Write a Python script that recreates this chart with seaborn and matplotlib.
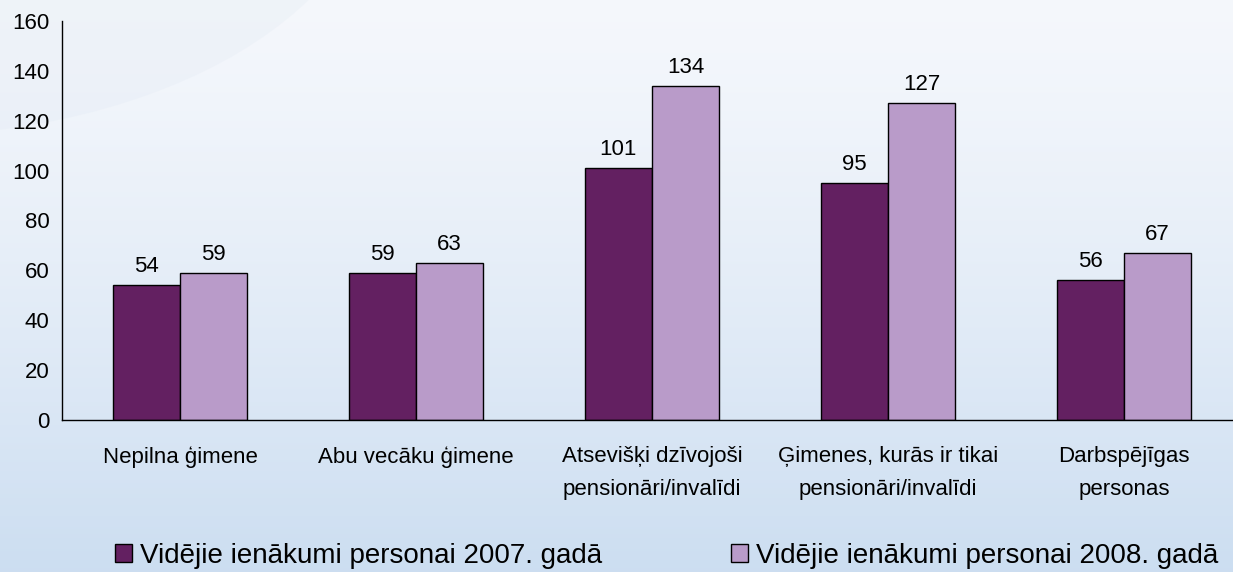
import numpy as np
import pandas as pd
import matplotlib.pyplot as plt
import seaborn as sns
from matplotlib.patches import Ellipse, Patch

# data
categories = ["Nepilna ģimene", "Abu vecāku ģimene", "Atsevišķi dzīvojoši\npensionāri/invalīdi",
              "Ģimenes, kurās ir tikai\npensionāri/invalīdi", "Darbspējīgas\npersonas"]
series = ["Vidējie ienākumi personai 2007. gadā", "Vidējie ienākumi personai 2008. gadā"]
vals_2007 = [54, 59, 101, 95, 56]
vals_2008 = [59, 63, 134, 127, 67]
colors = ["#632061", "#b99bc9"]

df = pd.DataFrame({
    "cat": categories * 2,
    "series": [series[0]] * 5 + [series[1]] * 5,
    "value": vals_2007 + vals_2008,
})

sns.set_style("white")
plt.rcParams['font.family'] = ['Liberation Sans', 'DejaVu Sans']
plt.rcParams['text.color'] = 'black'
plt.rcParams['xtick.color'] = 'black'
plt.rcParams['ytick.color'] = 'black'

fig = plt.figure(figsize=(12.33, 5.72), dpi=100)

# gradient background with soft swoosh
bg = fig.add_axes([0, 0, 1, 1], zorder=0)
grad = np.linspace(0, 1, 256).reshape(-1, 1)
top = np.array([0.960, 0.970, 0.988])
bot = np.array([0.80, 0.87, 0.945])
img = top + (bot - top) * grad[:, :, None] ** 1.3
bg.imshow(img, aspect="auto", extent=[0, 1233, 572, 0])
bg.add_patch(Ellipse((-100, -150), 960, 572, facecolor="#dce5f1",
                     alpha=0.22, edgecolor="none"))
bg.set_xlim(0, 1233)
bg.set_ylim(572, 0)
bg.axis("off")

ax = fig.add_axes([62 / 1233, 1 - 420 / 572, 1180 / 1233, 399 / 572], zorder=1)
ax.patch.set_alpha(0)

sns.barplot(data=df, x="cat", y="value", hue="series", palette=colors,
            width=0.57, gap=0, edgecolor="black", linewidth=1, ax=ax,
            legend=False, saturation=1)

for c in ax.containers:
    ax.bar_label(c, fmt="%d", padding=6, fontsize=16)

ax.set_xlim(-0.5, 4.5)
ax.set_ylim(0, 160)
ax.set_yticks(range(0, 161, 20))
ax.set_xticks(np.arange(-0.5, 5, 1), minor=True)
ax.set_xticks(range(5))
ax.set_xticklabels(categories, linespacing=1.75)
ax.tick_params(axis="x", which="major", length=0, pad=19, labelsize=16)
ax.tick_params(axis="x", which="minor", direction="out", length=6, width=1, color="black")
ax.tick_params(axis="y", direction="out", length=6, width=1, color="black", labelsize=16, pad=3)
ax.set_xlabel("")
ax.set_ylabel("")
for s in ["top", "right"]:
    ax.spines[s].set_visible(False)
for s in ["left", "bottom"]:
    ax.spines[s].set_color("black")
    ax.spines[s].set_linewidth(1)

handles = [Patch(facecolor=colors[i], edgecolor="black", linewidth=1) for i in range(2)]
fig.legend(handles, series, loc="center left", bbox_to_anchor=(104 / 1233, 1 - 556 / 572),
           ncol=2, frameon=False, fontsize=20, handlelength=0.6, handleheight=0.6,
           handletextpad=0.3, columnspacing=4.65, borderaxespad=0)

fig.savefig("out.png", dpi=100)
